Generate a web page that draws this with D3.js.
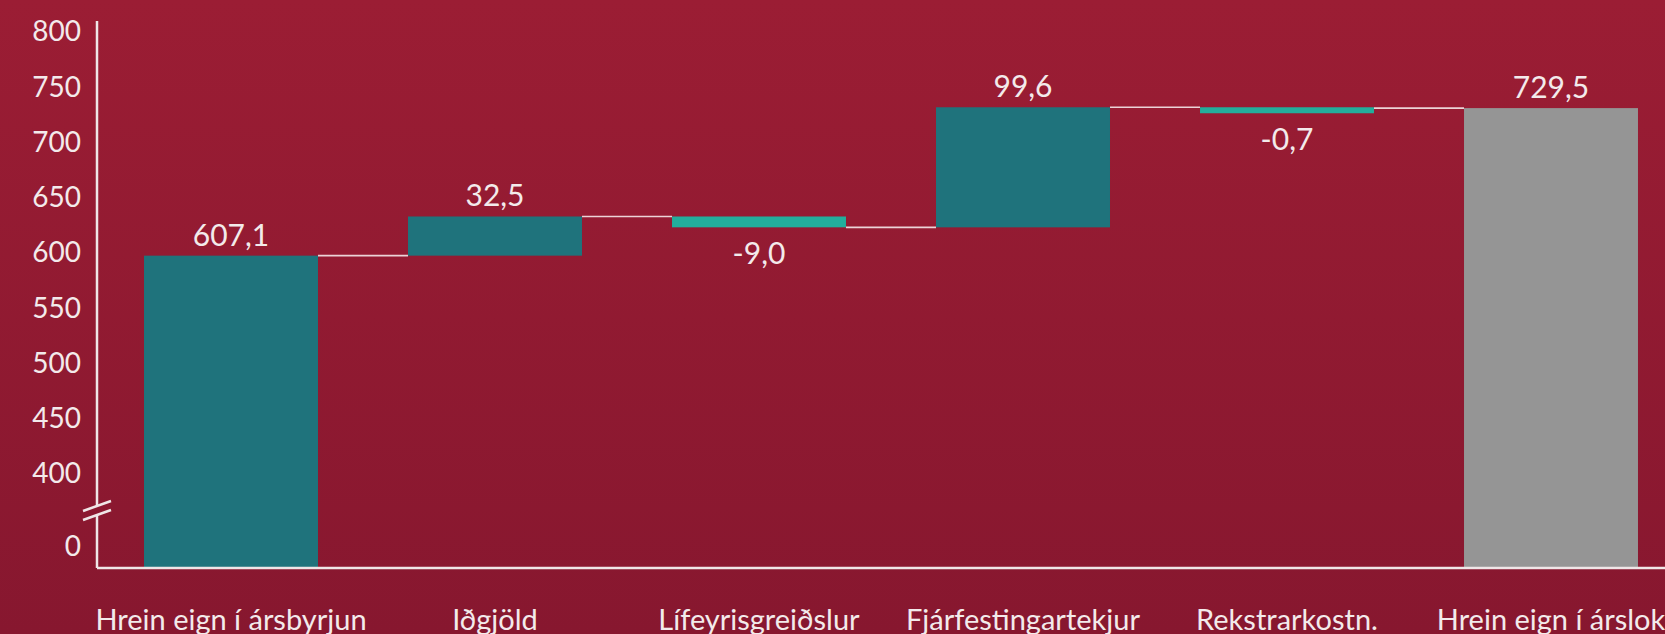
<!DOCTYPE html>
<html>
<head>
<meta charset="utf-8">
<script src="https://cdn.jsdelivr.net/npm/d3@7.9.0/dist/d3.min.js"></script>
<style>
  html, body { margin: 0; padding: 0; }
  body { width: 1665px; height: 634px; overflow: hidden; }
  svg { display: block; font-family: Lato, "Open Sans", sans-serif; }
</style>
</head>
<body>
<svg id="chart" width="1665" height="634"></svg>
<script>
const categories = ['Hrein eign í ársbyrjun', 'Iðgjöld', 'Lífeyrisgreiðslur', 'Fjárfestingartekjur', 'Rekstrarkostn.', 'Hrein eign í árslok'];
const values = [607.1, 32.5, -9.0, 99.6, -0.7, 729.5];
const kinds = ['start', 'delta', 'delta', 'delta', 'delta', 'total'];
const tickValues = [0, 400, 450, 500, 550, 600, 650, 700, 750, 800];

const width = 1665;
const height = 634;
const baseY = 568;
const axisX = 97;
const textColor = '#f3eaeb';

const svg = d3.select('#chart');

// background gradient
const defs = svg.append('defs');
const grad = defs.append('linearGradient').attr('id', 'bg').attr('x1', 0).attr('y1', 0).attr('x2', 0).attr('y2', 1);
grad.append('stop').attr('offset', '0%').attr('stop-color', '#9b1d34');
grad.append('stop').attr('offset', '100%').attr('stop-color', '#87172f');
svg.append('rect').attr('width', width).attr('height', height).attr('fill', 'url(#bg)');

// build waterfall steps
let running = 0;
const steps = categories.map((label, i) => {
  const v = values[i];
  let start, end;
  if (kinds[i] === 'delta') {
    start = running;
    end = running + v;
  } else {
    start = null;
    end = v;
  }
  running = end;
  return { label, value: v, kind: kinds[i], start, end };
});

const x = d3.scaleBand()
  .domain(categories)
  .range([99, 1683])
  .paddingInner(0.341)
  .paddingOuter(0.1705);

// bars use the upper segment of the broken axis
const y = d3.scaleLinear().domain([348, 730]).range([baseY, 107.5]);

// tick labels on the broken axis
const yAxisScale = d3.scaleLinear().domain([0, 400, 800]).range([547, 474, 32]);

const locale = d3.formatLocale({ decimal: ',', thousands: '.', grouping: [3], currency: ['', ''], minus: '-' });
const fmt = locale.format('.1f');

const minThick = 6;

function barBox(d) {
  if (d.kind !== 'delta') {
    return { top: y(d.end), bottom: baseY };
  }
  let top = y(Math.max(d.start, d.end));
  let bottom = y(Math.min(d.start, d.end));
  if (bottom - top < minThick) {
    bottom = top + minThick;
  }
  return { top, bottom };
}

const colorFor = (d) => {
  if (d.kind === 'total') return '#959595';
  if (d.kind === 'delta' && d.value < 0) return '#23ae9c';
  return '#1f737c';
};

// connectors
const links = steps.slice(0, -1).map((d, i) => ({ from: d, to: steps[i + 1], level: d.end }));
svg.append('g')
  .selectAll('line')
  .data(links)
  .join('line')
  .attr('x1', (d) => x(d.from.label) + x.bandwidth())
  .attr('x2', (d) => x(d.to.label))
  .attr('y1', (d) => y(d.level))
  .attr('y2', (d) => y(d.level))
  .attr('stroke', '#ecd3d7')
  .attr('stroke-width', 1.6);

// bars
svg.append('g')
  .selectAll('rect')
  .data(steps)
  .join('rect')
  .attr('x', (d) => x(d.label))
  .attr('width', x.bandwidth())
  .attr('y', (d) => barBox(d).top)
  .attr('height', (d) => barBox(d).bottom - barBox(d).top)
  .attr('fill', colorFor);

// value labels
svg.append('g')
  .selectAll('text')
  .data(steps)
  .join('text')
  .attr('x', (d) => x(d.label) + x.bandwidth() / 2)
  .attr('y', (d) => (d.value < 0 ? barBox(d).bottom + 37 : barBox(d).top - 10))
  .attr('text-anchor', 'middle')
  .attr('fill', textColor)
  .attr('font-size', 30)
  .text((d) => fmt(d.value));

// y axis labels
const yAxis = d3.axisLeft(yAxisScale).tickValues(tickValues).tickSize(0).tickPadding(16).tickFormat(d3.format('d'));
const gy = svg.append('g').attr('transform', `translate(${axisX},0)`).call(yAxis);
gy.select('.domain').remove();
gy.selectAll('text').attr('fill', textColor).attr('font-size', 28).attr('font-family', 'Lato, "Open Sans", sans-serif');

// axis lines with break
const axisG = svg.append('g').attr('stroke', '#efe6e7').attr('stroke-width', 2.5).attr('fill', 'none');
axisG.append('line').attr('x1', axisX).attr('x2', axisX).attr('y1', 21).attr('y2', 506);
axisG.append('line').attr('x1', axisX).attr('x2', axisX).attr('y1', 515).attr('y2', baseY);
axisG.append('line').attr('x1', axisX).attr('x2', width).attr('y1', baseY).attr('y2', baseY);
axisG.append('line').attr('x1', 83).attr('y1', 511).attr('x2', 111).attr('y2', 501);
axisG.append('line').attr('x1', 83).attr('y1', 520).attr('x2', 111).attr('y2', 510);

// category labels
svg.append('g')
  .selectAll('text')
  .data(categories)
  .join('text')
  .attr('x', (d) => x(d) + x.bandwidth() / 2)
  .attr('y', 630)
  .attr('text-anchor', 'middle')
  .attr('fill', textColor)
  .attr('font-size', 29)
  .text((d) => d);
</script>
</body>
</html>
